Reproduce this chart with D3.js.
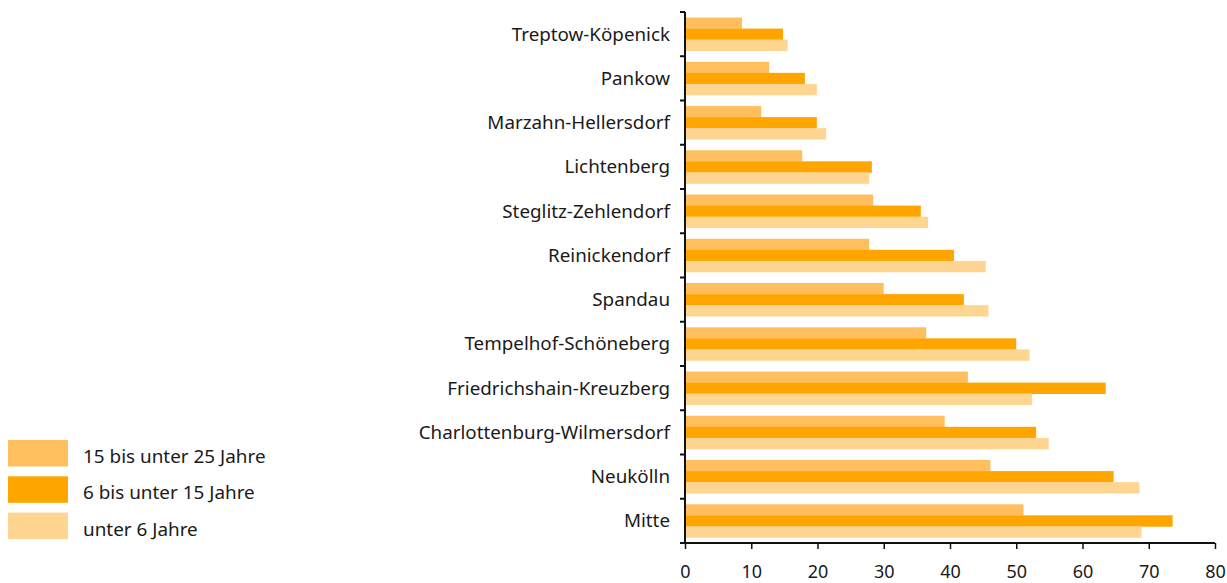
<!DOCTYPE html>
<html><head><meta charset="utf-8">
<script src="https://cdn.jsdelivr.net/npm/d3@7"></script>
<style>body{margin:0;background:#fff;} text{font-family:"Noto Sans",sans-serif;fill:#1a1a1a;}</style>
</head><body><svg id="c" width="1227" height="583"></svg>
<script>
const categories = ["Treptow-Köpenick","Pankow","Marzahn-Hellersdorf","Lichtenberg","Steglitz-Zehlendorf","Reinickendorf","Spandau","Tempelhof-Schöneberg","Friedrichshain-Kreuzberg","Charlottenburg-Wilmersdorf","Neukölln","Mitte"];
const seriesNames = ["15 bis unter 25 Jahre","6 bis unter 15 Jahre","unter 6 Jahre"];
const s15to25 = [8.6,12.7,11.5,17.7,28.4,27.8,30.0,36.4,42.7,39.2,46.1,51.1];
const s6to15  = [14.8,18.1,19.9,28.2,35.6,40.6,42.1,50.0,63.5,53.0,64.7,73.6];
const sUnder6 = [15.5,19.9,21.3,27.8,36.7,45.4,45.8,52.0,52.4,54.9,68.6,68.9];
const xTicks = [0,10,20,30,40,50,60,70,80];
const colors = ["#FFBF5E","#FFA500","#FFD592"];
const seriesData = [s15to25,s6to15,sUnder6];

const svg = d3.select("#c");
const m = {left:685, right:1215, top:12, bottom:543};
const x = d3.scaleLinear().domain([0,80]).range([m.left,m.right]);
const y = d3.scaleBand().domain(categories).range([m.top,m.bottom]).paddingInner(0.25).paddingOuter(0.125);
const ys = d3.scaleBand().domain(d3.range(3)).range([0,y.bandwidth()]);
const step = y.step();

const g = svg.append("g");
categories.forEach((c,i)=>{
  seriesData.forEach((s,j)=>{
    g.append("rect").attr("x",x(0)).attr("y",y(c)+ys(j)).attr("width",x(s[i])-x(0)).attr("height",ys.bandwidth()+0.3).attr("fill",colors[j]);
  });
});

// left axis
const ax = svg.append("g");
ax.append("line").attr("x1",m.left).attr("x2",m.left).attr("y1",m.top).attr("y2",m.bottom).attr("stroke","#111").attr("stroke-width",2);
d3.range(categories.length+1).forEach(i=>{
  const yy = m.top + i*step;
  ax.append("line").attr("x1",m.left-5).attr("x2",m.left).attr("y1",yy).attr("y2",yy).attr("stroke","#111").attr("stroke-width",2);
});
categories.forEach(c=>{
  ax.append("text").attr("x",670).attr("y",y(c)+y.bandwidth()/2).attr("dy","0.35em").attr("text-anchor","end").attr("font-size",18.8).text(c);
});
// bottom axis
const bx = svg.append("g").attr("transform",`translate(0,${m.bottom})`);
bx.call(d3.axisBottom(x).tickValues(xTicks).tickSize(6).tickPadding(16).tickFormat(d3.format("d")));
bx.select(".domain").attr("stroke","#111").attr("stroke-width",2).attr("d",`M${m.left-1},0H${m.right}`);
bx.selectAll(".tick line").attr("stroke","#111").attr("stroke-width",1.5);
bx.selectAll(".tick text").attr("font-size",18).attr("font-family","Noto Sans").attr("fill","#1a1a1a");

// legend
const lg = svg.append("g");
seriesNames.forEach((n,j)=>{
  const yy = 440 + j*36.3;
  lg.append("rect").attr("x",8).attr("y",yy).attr("width",60).attr("height",26.5).attr("fill",colors[j]);
  lg.append("text").attr("x",83).attr("y",yy+16.5).attr("dy","0.35em").attr("font-size",18.9).text(n);
});
</script></body></html>
